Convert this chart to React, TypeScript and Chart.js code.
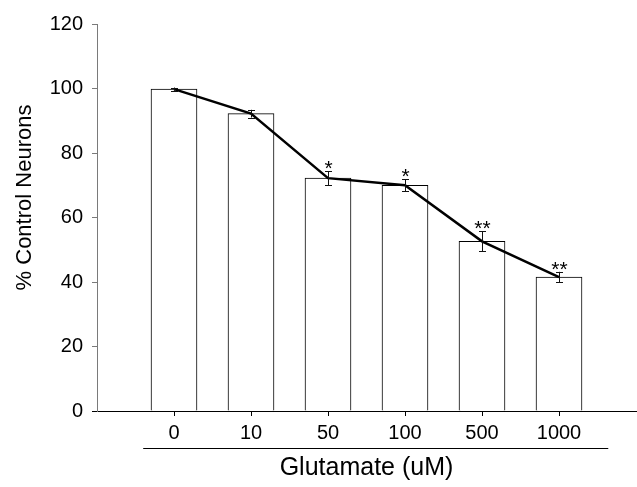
import { useEffect, useRef } from 'react';
import { Chart, registerables } from 'chart.js';

Chart.register(...registerables);

const categories = ['0', '10', '50', '100', '500', '1000'];
const values = [99.8, 92.2, 72.2, 70.0, 52.6, 41.5];
const errors = [0.5, 1.2, 2.2, 1.9, 3.1, 1.65];
const marks = ['', '', '*', '*', '**', '**'];
const yTicks = [0, 20, 40, 60, 80, 100, 120];
const yTitle = '% Control Neurons';
const xTitle = 'Glutamate (uM)';

const FONT = '"Liberation Sans", Arial, Helvetica, sans-serif';

const decor = {
  id: 'decor',
  afterDatasetsDraw(chart: any) {
    const { ctx, scales } = chart;
    const x = scales.x;
    const y = scales.y;
    ctx.save();
    ctx.strokeStyle = '#111';
    ctx.lineWidth = 1;
    values.forEach((v, i) => {
      const px = Math.round(x.getPixelForValue(i)) + 0.5;
      const top = y.getPixelForValue(v + errors[i]);
      const bot = y.getPixelForValue(v - errors[i]);
      ctx.beginPath();
      ctx.moveTo(px, top);
      ctx.lineTo(px, bot);
      ctx.moveTo(px - 3.5, Math.round(top) + 0.5);
      ctx.lineTo(px + 3.5, Math.round(top) + 0.5);
      ctx.moveTo(px - 3.5, Math.round(bot) + 0.5);
      ctx.lineTo(px + 3.5, Math.round(bot) + 0.5);
      ctx.stroke();
      if (marks[i]) {
        ctx.font = `21px ${FONT}`;
        ctx.textAlign = 'center';
        ctx.textBaseline = 'alphabetic';
        ctx.fillStyle = '#000';
        ctx.fillText(marks[i], px, top + 4);
      }
    });
    ctx.restore();
  },
  afterDraw(chart: any) {
    const { ctx, chartArea, scales } = chart;
    const x = scales.x;
    ctx.save();
    // underline between tick labels and axis title
    const uy = Math.round(chartArea.bottom + 37) + 0.5;
    ctx.strokeStyle = '#000';
    ctx.lineWidth = 1;
    ctx.beginPath();
    ctx.moveTo(x.getPixelForValue(-0.4), uy);
    ctx.lineTo(x.getPixelForValue(5.64), uy);
    ctx.stroke();
    // x axis line extension to the left across the y axis
    ctx.beginPath();
    ctx.moveTo(chartArea.left - 5, Math.round(chartArea.bottom) + 0.5);
    ctx.lineTo(chartArea.left, Math.round(chartArea.bottom) + 0.5);
    ctx.stroke();
    // y title
    ctx.translate(25, (chartArea.top + chartArea.bottom) / 2 - 20);
    ctx.rotate(-Math.PI / 2);
    ctx.font = `22px ${FONT}`;
    ctx.fillStyle = '#000';
    ctx.textAlign = 'center';
    ctx.textBaseline = 'middle';
    ctx.fillText(yTitle, 0, 0);
    ctx.restore();
  },
};

export default function App() {
  const ref = useRef<HTMLCanvasElement | null>(null);

  useEffect(() => {
    if (!ref.current) return;
    const points = values.map((v, i) => ({ x: i, y: v }));
    const chart = new Chart(ref.current, {
      type: 'bar',
      data: {
        datasets: [
          {
            type: 'line',
            data: points,
            borderColor: '#000',
            borderWidth: 2.5,
            pointRadius: 0,
            fill: false,
            order: 0,
          } as any,
          {
            type: 'bar',
            data: points,
            backgroundColor: '#fff',
            borderColor: '#000',
            borderWidth: 1,
            barThickness: 46,
            order: 1,
          } as any,
        ],
      },
      options: {
        animation: false,
        responsive: false,
        layout: { padding: { top: 24, right: 1, left: 0, bottom: 0 } },
        plugins: {
          legend: { display: false },
          tooltip: { enabled: false },
        },
        scales: {
          x: {
            type: 'linear',
            min: -1,
            max: 6,
            offset: false,
            afterBuildTicks: (scale: any) => {
              scale.ticks = categories.map((_, i) => ({ value: i }));
            },
            afterFit: (scale: any) => {
              scale.height = 76;
            },
            ticks: {
              autoSkip: false,
              maxRotation: 0,
              padding: 5,
              color: '#000',
              font: { family: FONT, size: 20 },
              callback: (v: any) => categories[v] ?? '',
            },
            grid: {
              offset: false,
              drawOnChartArea: false,
              tickLength: 5,
              color: '#000',
            },
            border: { color: '#000', width: 1 },
            title: {
              display: true,
              text: xTitle,
              color: '#000',
              font: { family: FONT, size: 25 },
              padding: { top: 0, bottom: 4 },
            },
          },
          y: {
            type: 'linear',
            min: 0,
            max: 120,
            afterBuildTicks: (scale: any) => {
              scale.ticks = yTicks.map((v) => ({ value: v }));
            },
            afterFit: (scale: any) => {
              scale.width = 97;
            },
            ticks: {
              padding: 9,
              color: '#000',
              font: { family: FONT, size: 20 },
            },
            grid: {
              drawOnChartArea: false,
              tickLength: 5,
              color: '#7a7a7a',
            },
            border: { color: '#7a7a7a', width: 1 },
          },
        },
      },
      plugins: [decor],
    });
    return () => chart.destroy();
  }, []);

  return (
    <div style={{ position: 'absolute', left: 0, top: 0, width: 637, height: 487, background: '#fff' }}>
      <canvas ref={ref} width={637} height={487} />
    </div>
  );
}
